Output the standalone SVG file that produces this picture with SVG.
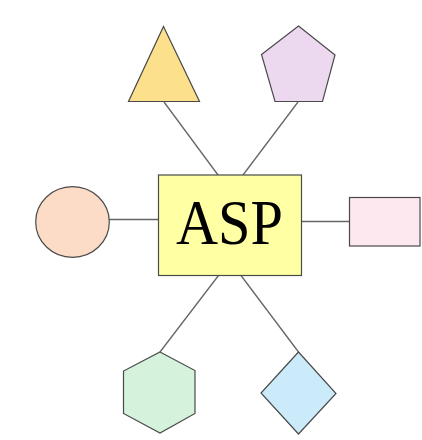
<svg xmlns="http://www.w3.org/2000/svg" width="422" height="440" viewBox="0 0 422 440">
<style>
.s{stroke:#4a4a4a;stroke-width:1.2}
.c{stroke:#666;stroke-width:1.3;fill:none}
</style>
<rect width="422" height="440" fill="#fff"/>
<g id="connectors">
<line class="c" x1="164" y1="102" x2="218" y2="175"/>
<line class="c" x1="298" y1="102" x2="243" y2="175"/>
<line class="c" x1="109" y1="219.5" x2="158.5" y2="219.5"/>
<line class="c" x1="301.5" y1="221.5" x2="349.5" y2="221.5"/>
<line class="c" x1="218.5" y1="275.5" x2="160" y2="352"/>
<line class="c" x1="241" y1="275.5" x2="298.5" y2="352"/>
</g>
<g id="asp">
<rect class="s" x="158.5" y="175" width="143" height="100.5" fill="#ffffa3"/>
<text x="229.5" y="243.5" font-family="Liberation Serif, serif" font-size="64" text-anchor="middle" textLength="107" lengthAdjust="spacingAndGlyphs" fill="#000">ASP</text>
</g>
<g id="triangle">
<polygon class="s" points="163.5,26.5 199.5,101.5 128.5,101.5" fill="#fde08b"/>
</g>
<g id="pentagon">
<polygon class="s" points="298.5,26 335,55 322.5,101.5 275,101.5 261.5,54.5" fill="#ecd9ef"/>
</g>
<g id="circle">
<ellipse class="s" cx="72.5" cy="222" rx="36.8" ry="35.3" fill="#fcdcc7"/>
</g>
<g id="rectangle">
<rect class="s" x="349.5" y="197.5" width="70.5" height="48.5" fill="#fde8f0"/>
</g>
<g id="hexagon">
<polygon class="s" points="160,352 195,370.5 195,413.5 160,433 123.5,413.5 123.5,371" fill="#d5f2dd"/>
</g>
<g id="diamond">
<polygon class="s" points="298.5,352 336,393.5 298.5,434 261,393" fill="#cbebfb"/>
</g>
</svg>
